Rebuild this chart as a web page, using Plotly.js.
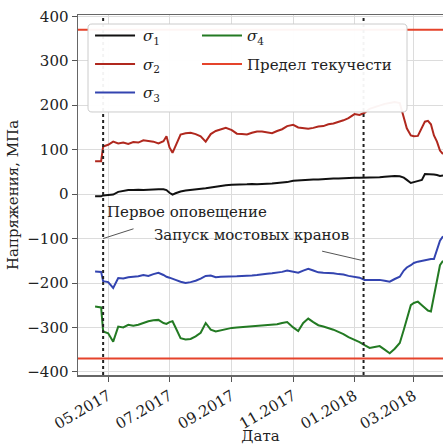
<!DOCTYPE html>
<html>
<head>
<meta charset="utf-8">
<script src="https://cdn.plot.ly/plotly-3.0.1.min.js"></script>
<style>html,body{margin:0;padding:0;background:#fff;}#chart{width:443px;height:445px;}</style>
</head>
<body>
<div id="chart"></div>
<script>
// ---- data ----
const dates = ['2017-04-18','2017-04-24','2017-04-26','2017-05-01','2017-05-06','2017-05-11','2017-05-16','2017-05-21','2017-05-26','2017-05-31',
'2017-06-05','2017-06-10','2017-06-15','2017-06-20','2017-06-25','2017-06-28','2017-07-01','2017-07-04','2017-07-07','2017-07-12',
'2017-07-17','2017-07-22','2017-07-27','2017-08-01','2017-08-06','2017-08-11','2017-08-16','2017-08-21','2017-08-26','2017-09-01',
'2017-09-06','2017-09-11','2017-09-16','2017-09-21','2017-09-26','2017-10-01','2017-10-06','2017-10-11','2017-10-16','2017-10-21',
'2017-10-26','2017-11-01','2017-11-06','2017-11-11','2017-11-16','2017-11-21','2017-11-26','2017-12-01','2017-12-06','2017-12-11',
'2017-12-16','2017-12-21','2017-12-26','2018-01-01','2018-01-06','2018-01-11','2018-01-16','2018-01-21','2018-01-26','2018-01-31',
'2018-02-05','2018-02-10','2018-02-15','2018-02-19','2018-02-22','2018-02-26','2018-03-01','2018-03-05','2018-03-09','2018-03-12',
'2018-03-15','2018-03-18','2018-03-21','2018-03-24','2018-03-27','2018-03-30'];

const sigma1 = [-5,-5,-3,-2,-1,5,7,9,9,10, 9,10,10,11,11,9,3,-1,2,6, 8,9,10,12,13,15,17,19,20,21,
21,22,22,23,22,23,23,24,25,26, 27,30,31,32,32,33,33,34,34,35, 35,36,36,37,37,37,38,38,38,39,
40,41,40,37,32,25,27,30,32,45, 45,44,44,43,41,42];

const sigma2 = [74,74,107,111,118,114,116,113,117,116, 121,120,118,114,119,130,105,93,108,134, 137,138,135,130,118,135,142,146,149,144,
136,135,134,138,141,141,139,137,142,146, 153,156,150,148,147,149,152,153,157,159, 162,166,171,180,178,183,192,196,200,203,
205,207,205,175,148,132,130,131,150,163, 165,157,132,118,98,90];

const sigma3 = [-174,-175,-196,-198,-211,-189,-190,-187,-186,-185, -182,-184,-180,-177,-182,-186,-188,-191,-193,-197,
-200,-198,-195,-190,-184,-183,-187,-186,-186,-185, -185,-184,-184,-183,-182,-180,-179,-178,-177,-175,
-172,-174,-177,-172,-168,-172,-176,-177,-177,-178, -180,-181,-184,-186,-188,-193,-193,-192,-193,-195,
-197,-191,-186,-172,-165,-160,-155,-152,-150,-149, -148,-146,-146,-125,-105,-95];

const sigma4 = [-253,-255,-309,-313,-332,-298,-300,-294,-296,-294, -290,-286,-284,-283,-290,-292,-288,-286,-300,-324,
-327,-326,-320,-312,-290,-305,-309,-306,-303,-301, -300,-299,-298,-297,-296,-295,-294,-293,-293,-290,
-288,-300,-308,-290,-280,-288,-295,-298,-301,-305, -310,-315,-322,-328,-333,-340,-346,-344,-342,-350,
-358,-348,-335,-305,-282,-250,-245,-242,-250,-256, -262,-264,-228,-195,-160,-150];

const yieldDates = ['2017-04-01','2018-03-30'];
const yieldLimit = 370;

const eventDates = ['2017-04-26','2018-01-10'];
const eventLabels = ['Первое оповещение','Запуск мостовых кранов'];
const eventArrowY = [-100,-150];

const tickDates = ['2017-05-01','2017-07-01','2017-09-01','2017-11-01','2018-01-01','2018-03-01'];
const tickLabels = ['05.2017','07.2017','09.2017','11.2017','01.2018','03.2018'];
const yTicks = [-400,-300,-200,-100,0,100,200,300,400];
const yTickLabels = ['−400','−300','−200','−100','0','100','200','300','400'];

// ---- chart ----
const FONT = 'DejaVu Serif';
const FS = 15;
const C1 = '#111111', C2 = '#b0281e', C3 = '#3344b0', C4 = '#237a23', CY = '#e5432b';

const traces = [
  {x: dates, y: sigma1, name: '\u2009<i>σ</i><sub>1</sub>', mode: 'lines', line: {color: C1, width: 2}, legend: 'legend', legendgroup: 'a'},
  {x: dates, y: sigma2, name: '\u2009<i>σ</i><sub>2</sub>', mode: 'lines', line: {color: C2, width: 2}, legend: 'legend', legendgroup: 'b'},
  {x: dates, y: sigma3, name: '\u2009<i>σ</i><sub>3</sub>', mode: 'lines', line: {color: C3, width: 2}, legend: 'legend', legendgroup: 'c'},
  {x: dates, y: sigma4, name: '<i>σ</i><sub>4</sub>', mode: 'lines', line: {color: C4, width: 2}, legend: 'legend2', legendgroup: 'd'},
  {x: [yieldDates[0], yieldDates[1], null, yieldDates[0], yieldDates[1]],
   y: [yieldLimit, yieldLimit, null, -yieldLimit, -yieldLimit],
   name: 'Предел текучести', mode: 'lines', line: {color: CY, width: 2}, legend: 'legend2', legendgroup: 'e', connectgaps: false}
];

// legend box (rounded rect in paper coords)
const bx0 = 0.0274, bx1 = 0.9014, by0 = 0.7306, by1 = 0.975, rx = 0.011, ry = 0.011;
const boxPath = `M${bx0+rx},${by1} L${bx1-rx},${by1} Q${bx1},${by1} ${bx1},${by1-ry} L${bx1},${by0+ry} Q${bx1},${by0} ${bx1-rx},${by0} L${bx0+rx},${by0} Q${bx0},${by0} ${bx0},${by0+ry} L${bx0},${by1-ry} Q${bx0},${by1} ${bx0+rx},${by1} Z`;

const shapes = eventDates.map(d => ({
  type: 'line', xref: 'x', yref: 'paper', x0: d, x1: d, y0: 0, y1: 1,
  line: {color: '#222', width: 2, dash: 'dot'}, layer: 'above'
}));
shapes.push({type: 'path', xref: 'paper', yref: 'paper', path: boxPath,
  fillcolor: 'rgba(255,255,255,0.95)', line: {color: '#cccccc', width: 1}, layer: 'above'});

const annotations = [
  {x: eventDates[0], y: eventArrowY[0], xref: 'x', yref: 'y', text: eventLabels[0], showarrow: true,
   arrowhead: 0, arrowwidth: 1, arrowcolor: '#555', ax: 84, ay: -27, startstandoff: 22,
   font: {family: FONT, size: FS, color: '#222'}},
  {x: eventDates[1], y: eventArrowY[1], xref: 'x', yref: 'y', text: eventLabels[1], showarrow: true,
   arrowhead: 0, arrowwidth: 1, arrowcolor: '#555', ax: -112, ay: -26, startstandoff: 26,
   font: {family: FONT, size: FS, color: '#222'}}
];

const layout = {
  width: 443, height: 445,
  margin: {l: 78, r: 0, t: 15, b: 70},
  paper_bgcolor: '#fff', plot_bgcolor: '#fff',
  font: {family: FONT, size: FS, color: '#222'},
  showlegend: true,
  legend: {x: 0.033, xanchor: 'left', y: 0.988, yanchor: 'top', bgcolor: 'rgba(0,0,0,0)', borderwidth: 0,
           tracegroupgap: 6, itemwidth: 40, font: {family: FONT, size: FS, color: '#222'}},
  legend2: {x: 0.326, xanchor: 'left', y: 0.988, yanchor: 'top', bgcolor: 'rgba(0,0,0,0)', borderwidth: 0,
           tracegroupgap: 6, itemwidth: 40, font: {family: FONT, size: FS, color: '#222'}},
  xaxis: {type: 'date', range: ['2017-04-01', '2018-03-30'], tickvals: tickDates, ticktext: tickLabels,
          tickangle: -30, ticks: 'outside', ticklen: 5, tickcolor: '#555', showgrid: true, gridcolor: '#dcdcdc',
          showline: true, linecolor: '#666', linewidth: 1.5, mirror: true, zeroline: false,
          tickfont: {family: FONT, size: FS, color: '#222'},
          title: {text: 'Дата', standoff: 6, font: {family: FONT, size: FS, color: '#222'}}},
  yaxis: {range: [-407, 403], tickvals: yTicks, ticktext: yTickLabels, ticks: 'outside', ticklen: 5, tickcolor: '#555',
          showgrid: true, gridcolor: '#dcdcdc', showline: true, linecolor: '#666', linewidth: 1.5, zeroline: false,
          tickfont: {family: FONT, size: FS, color: '#222'},
          title: {text: 'Напряжения, МПа', standoff: 5, font: {family: FONT, size: FS, color: '#222'}}},
  shapes: shapes,
  annotations: annotations
};

Plotly.newPlot('chart', traces, layout, {displayModeBar: false, staticPlot: true});
</script>
</body>
</html>
